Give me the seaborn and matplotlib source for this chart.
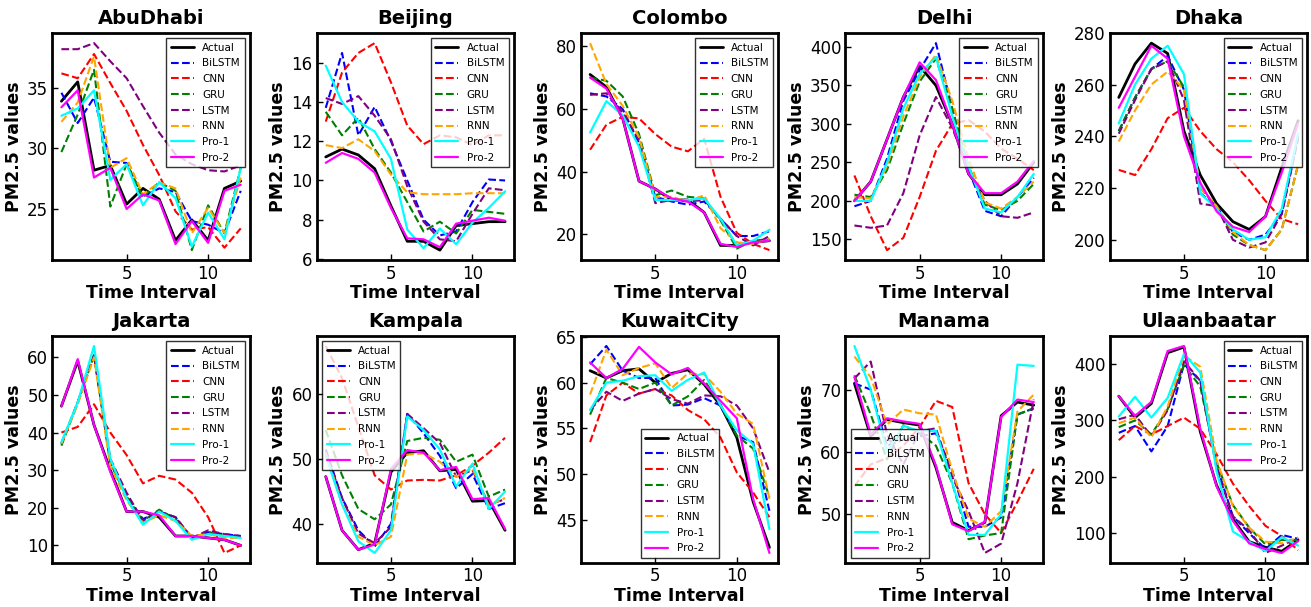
import numpy as np
import pandas as pd
import matplotlib
matplotlib.use("Agg")
import matplotlib.pyplot as plt
from matplotlib.ticker import MultipleLocator
import seaborn as sns

time_interval = list(range(1, 13))
models = ["Actual", "BiLSTM", "CNN", "GRU", "LSTM", "RNN", "Pro-1", "Pro-2"]
cities = ["AbuDhabi", "Beijing", "Colombo", "Delhi", "Dhaka",
          "Jakarta", "Kampala", "KuwaitCity", "Manama", "Ulaanbaatar"]

abudhabi = {
    "Actual": [33.9, 35.5, 28.2, 28.6, 25.4, 26.7, 25.8, 22.4, 24.1, 22.4, 26.7, 27.3],
    "BiLSTM": [34.6, 32.1, 34.2, 28.9, 28.8, 26.0, 26.7, 26.4, 24.0, 23.7, 23.0, 26.5],
    "CNN":    [36.2, 35.8, 37.8, 35.4, 33.1, 30.3, 27.8, 24.8, 23.3, 23.5, 21.8, 23.4],
    "GRU":    [29.7, 32.8, 36.5, 25.2, 28.7, 26.0, 27.2, 26.5, 21.6, 25.3, 23.0, 28.4],
    "LSTM":   [38.2, 38.2, 38.7, 37.2, 35.8, 33.5, 31.3, 29.5, 28.7, 28.2, 28.1, 28.6],
    "RNN":    [32.2, 33.8, 37.6, 28.4, 29.2, 26.2, 27.2, 26.7, 23.0, 25.1, 23.0, 27.6],
    "Pro-1":  [32.7, 33.3, 34.8, 27.4, 28.7, 25.3, 27.2, 25.9, 21.9, 24.7, 22.5, 28.4],
    "Pro-2":  [33.4, 34.8, 27.6, 28.4, 25.0, 26.2, 25.7, 22.1, 24.0, 22.2, 26.5, 27.0],
}
beijing = {
    "Actual": [11.2, 11.6, 11.3, 10.6, 8.7, 6.9, 6.9, 6.45, 7.7, 7.8, 7.9, 7.9],
    "BiLSTM": [13.7, 16.5, 12.3, 13.75, 12.0, 10.0, 8.0, 7.2, 7.4, 8.9, 10.05, 10.0],
    "CNN":    [13.0, 15.5, 16.5, 17.0, 15.0, 12.8, 11.85, 12.3, 12.2, 11.8, 12.3, 12.3],
    "GRU":    [13.5, 12.3, 13.2, 11.6, 10.4, 8.9, 7.4, 7.9, 7.3, 8.5, 8.4, 8.3],
    "LSTM":   [14.2, 13.9, 14.3, 13.3, 12.1, 9.7, 7.9, 7.0, 6.9, 8.3, 9.6, 9.5],
    "RNN":    [11.8, 11.65, 12.1, 11.5, 10.3, 9.4, 9.3, 9.3, 9.3, 9.35, 9.35, 9.35],
    "Pro-1":  [15.85, 14.0, 13.0, 12.5, 11.1, 7.5, 6.55, 7.55, 6.75, 7.85, 8.6, 9.45],
    "Pro-2":  [10.9, 11.4, 11.1, 10.4, 8.6, 7.05, 7.0, 6.6, 7.8, 7.95, 8.1, 7.95],
}
colombo = {
    "Actual": [71, 67, 57, 37, 34.5, 31, 31, 27, 16.5, 16.5, 17.5, 18],
    "BiLSTM": [65, 64, 60, 49, 32, 30.5, 29.5, 30.5, 25, 19.5, 19.5, 21],
    "CNN":    [47, 55, 57.5, 57, 52, 48, 46.5, 50.5, 32, 20.5, 17, 15],
    "GRU":    [70, 69, 64, 52, 32.5, 34, 32, 31.5, 24.5, 15.5, 18, 18.5],
    "LSTM":   [64.5, 65, 59, 50, 30, 31, 30.5, 31, 25, 19.5, 16.5, 19.5],
    "RNN":    [81, 68, 61, 51, 32, 32, 30.5, 32.5, 22, 17.5, 17, 18.5],
    "Pro-1":  [52.5, 62.5, 58, 48, 31, 31, 31, 31.5, 25, 16.5, 18, 21.5],
    "Pro-2":  [70, 66.5, 57, 37, 34.5, 31.5, 30.5, 27, 17, 16, 17.5, 18],
}
delhi = {
    "Actual": [200, 225, 280, 335, 375, 350, 300, 235, 208, 208, 222, 250],
    "BiLSTM": [193, 200, 255, 330, 370, 405, 320, 240, 187, 180, 205, 230],
    "CNN":    [233, 180, 136, 152, 205, 265, 300, 305, 290, 268, 255, 240],
    "GRU":    [208, 205, 240, 300, 355, 385, 320, 245, 195, 188, 200, 222],
    "LSTM":   [168, 165, 168, 210, 285, 335, 295, 240, 200, 180, 178, 185],
    "RNN":    [205, 203, 245, 310, 360, 390, 330, 255, 198, 190, 205, 225],
    "Pro-1":  [200, 200, 250, 320, 365, 387, 310, 245, 190, 185, 205, 235],
    "Pro-2":  [200, 225, 280, 335, 380, 357, 300, 235, 210, 210, 225, 252],
}
dhaka = {
    "Actual": [255, 268, 276, 272, 242, 225, 214, 207, 204, 209, 228, 246],
    "BiLSTM": [242, 255, 266, 271, 258, 218, 213, 203, 200, 202, 210, 240],
    "CNN":    [227, 225, 235, 247, 251, 242, 235, 230, 223, 215, 208, 206],
    "GRU":    [242, 255, 266, 269, 259, 220, 213, 202, 198, 196, 204, 229],
    "LSTM":   [241, 254, 266, 269, 254, 214, 213, 200, 197, 199, 210, 239],
    "RNN":    [238, 250, 260, 265, 258, 220, 213, 203, 198, 196, 204, 229],
    "Pro-1":  [245, 260, 270, 275, 264, 218, 212, 204, 200, 201, 212, 241],
    "Pro-2":  [251, 263, 275, 270, 240, 222, 211, 205, 203, 209, 226, 245],
}
jakarta = {
    "Actual": [47, 59, 42, 30, 19, 19, 17.5, 12.5, 12.5, 12, 11.5, 10],
    "BiLSTM": [37, 48, 60.5, 32, 23, 17, 19, 17.5, 12, 13.5, 13, 12.5],
    "CNN":    [40, 41.5, 47.5, 40, 34, 26.5, 28.5, 27.5, 24, 17.5, 8, 10],
    "GRU":    [36.5, 48, 60.5, 32, 23, 16.5, 19.5, 17, 12, 13.5, 12.5, 12.5],
    "LSTM":   [37, 48, 60.5, 33, 24, 16.5, 19, 17.5, 12, 14, 13, 12.5],
    "RNN":    [37, 47.5, 60, 31, 22, 16, 18, 16.5, 12.5, 13, 12, 12],
    "Pro-1":  [37.5, 48, 63, 33, 22.5, 15.5, 19, 16.5, 11.5, 13, 12.5, 12],
    "Pro-2":  [47, 59.5, 42, 29.5, 19, 19, 18, 12.5, 12.5, 12, 11.5, 10],
}
kampala = {
    "Actual": [47.3, 39, 36, 37, 48, 51, 51.3, 48.2, 48.4, 43.5, 43.6, 39],
    "BiLSTM": [51.5, 44, 39, 36.5, 40, 57, 54, 50.5, 45.5, 47.7, 42.3, 43.2],
    "CNN":    [67.5, 62.5, 55, 47.5, 45.3, 46.7, 46.8, 46.7, 47.5, 49, 51, 53.3],
    "GRU":    [54.5, 47.5, 42.3, 40.7, 43, 52.8, 53.3, 53, 49.6, 50.7, 44.2, 45.3],
    "LSTM":   [51, 44, 38.5, 37, 39.5, 57, 54.8, 52.5, 47.3, 48.3, 43, 43.8],
    "RNN":    [51, 43, 38, 36.7, 38, 50.7, 50.9, 49.6, 47.3, 48.6, 42.8, 44],
    "Pro-1":  [50.5, 43, 37.3, 35.5, 39, 56.6, 54.5, 51.5, 45.8, 49.3, 42.3, 45],
    "Pro-2":  [47.3, 39, 36, 36.8, 48.5, 51.4, 51, 48.3, 48.8, 43.8, 44, 39.2],
}
kuwaitcity = {
    "Actual": [61.3, 60.5, 61.3, 61.5, 60, 61, 61.4, 59.8, 57.5, 54, 47, 42.0],
    "BiLSTM": [62, 64, 61.3, 60.5, 60.5, 57.5, 57.6, 58.3, 57.5, 54.2, 53.5, 46],
    "CNN":    [53.5, 58.6, 60, 58.8, 59.3, 58.6, 57, 56, 54, 50.2, 48, 45.3],
    "GRU":    [56.5, 60.5, 60, 59.3, 60, 57.5, 58.5, 60.3, 57.5, 54.2, 52.8, 47.5],
    "LSTM":   [57, 59, 58, 58.8, 59.3, 58.2, 57.7, 58.6, 58.5, 57.5, 55, 50.2],
    "RNN":    [58.7, 63.6, 60.8, 61.6, 62.1, 59.4, 61, 60.9, 59, 56.6, 55.5, 47.3],
    "Pro-1":  [57, 60, 60.2, 60.7, 60.8, 59.1, 60.3, 61.1, 57.5, 54.8, 53.3, 44],
    "Pro-2":  [62.2, 60.5, 61.5, 63.9, 62.2, 60.9, 61.6, 59.9, 58, 56.1, 47.3, 41.4],
}
manama = {
    "Actual": [71, 62.5, 65.2, 64.7, 64.3, 57.5, 48.7, 47.4, 48.7, 65.8, 68, 67.5],
    "BiLSTM": [71, 70, 61, 62, 62.5, 63, 57, 48, 48, 49.5, 66, 67],
    "CNN":    [54.5, 58, 59, 61, 64, 68.2, 67.2, 55, 50, 47, 52, 57.3],
    "GRU":    [72.3, 66, 58.8, 64.3, 63, 61, 55, 46, 46.6, 47, 66, 67],
    "LSTM":   [71.8, 74.5, 62.8, 58, 63.3, 63.8, 56, 50.5, 43.8, 45.3, 55, 68.4],
    "RNN":    [75.3, 72, 64.4, 66.8, 66.2, 66, 57, 49.3, 48, 50.5, 66.5, 69.2],
    "Pro-1":  [77, 70, 60, 64.2, 63.3, 63.4, 55, 46.7, 46.7, 50, 74, 73.8],
    "Pro-2":  [72, 62.8, 65.4, 64.9, 64.5, 57.8, 48.4, 47.3, 48.8, 65.6, 68.4, 68],
}
ulaanbaatar = {
    "Actual": [343, 305, 330, 420, 430, 280, 185, 125, 85, 75, 68, 88],
    "BiLSTM": [278, 290, 245, 290, 400, 370, 220, 130, 100, 72, 97, 90],
    "CNN":    [265, 290, 275, 290, 305, 285, 240, 188, 148, 113, 95, 70],
    "GRU":    [288, 300, 275, 320, 398, 360, 225, 150, 110, 80, 88, 88],
    "LSTM":   [302, 310, 272, 318, 405, 370, 215, 130, 105, 65, 78, 92],
    "RNN":    [295, 305, 270, 325, 415, 395, 230, 148, 110, 85, 82, 92],
    "Pro-1":  [307, 342, 305, 340, 418, 385, 210, 103, 85, 68, 93, 78],
    "Pro-2":  [343, 308, 333, 423, 432, 285, 183, 122, 82, 72, 65, 86],
}

city_data = [abudhabi, beijing, colombo, delhi, dhaka,
             jakarta, kampala, kuwaitcity, manama, ulaanbaatar]

# styles
colors = {"Actual": "black", "BiLSTM": "blue", "CNN": "red", "GRU": "green",
          "LSTM": "purple", "RNN": "orange", "Pro-1": "cyan", "Pro-2": "magenta"}
styles = {"Actual": "-", "BiLSTM": "--", "CNN": "--", "GRU": "--",
          "LSTM": "--", "RNN": "--", "Pro-1": "-", "Pro-2": "-"}
widths = {"Actual": 2.0, "BiLSTM": 1.5, "CNN": 1.5, "GRU": 1.5,
          "LSTM": 1.5, "RNN": 1.5, "Pro-1": 1.6, "Pro-2": 1.6}
ytick_steps = [5, 2, 20, 50, 20, 10, 10, 5, 10, 100]
legend_locs = ["upper right"] * 6 + ["upper left", "lower center", "lower left", "upper right"]

sns.set_style("ticks")
plt.rcParams["font.family"] = ["DejaVu Sans"]
plt.rcParams.update({"text.color": "black", "axes.labelcolor": "black",
                     "xtick.color": "black", "ytick.color": "black"})

fig, axes = plt.subplots(2, 5, figsize=(13.11, 6.07), dpi=100)
fig.subplots_adjust(left=0.040, right=0.997, top=0.946, bottom=0.072,
                    wspace=0.34, hspace=0.33)

for ax, city, data, step, loc in zip(axes.flat, cities, city_data, ytick_steps, legend_locs):
    for m in models:
        sns.lineplot(x=time_interval, y=data[m], ax=ax, color=colors[m],
                     linestyle=styles[m], linewidth=widths[m], label=m)
    ax.set_title(city, fontsize=14, fontweight="bold", color="black")
    ax.set_xlabel("Time Interval", fontsize=12.5, fontweight="bold", labelpad=1)
    ax.set_ylabel("PM2.5 values", fontsize=12.5, fontweight="bold", labelpad=3)
    ax.xaxis.set_major_locator(MultipleLocator(5))
    ax.yaxis.set_major_locator(MultipleLocator(step))
    ax.tick_params(direction="in", labelsize=12, length=4, width=1, pad=3,
                   colors="black")
    for sp in ax.spines.values():
        sp.set_visible(True)
        sp.set_linewidth(2)
        sp.set_color("black")
    leg = ax.legend(loc=loc, fontsize=7.5, frameon=True, fancybox=False,
                    framealpha=0.8, edgecolor="black", handlelength=2.2,
                    borderpad=0.45, labelspacing=0.55)
    leg.get_frame().set_linewidth(1.0)

fig.savefig("out.png", dpi=100)
